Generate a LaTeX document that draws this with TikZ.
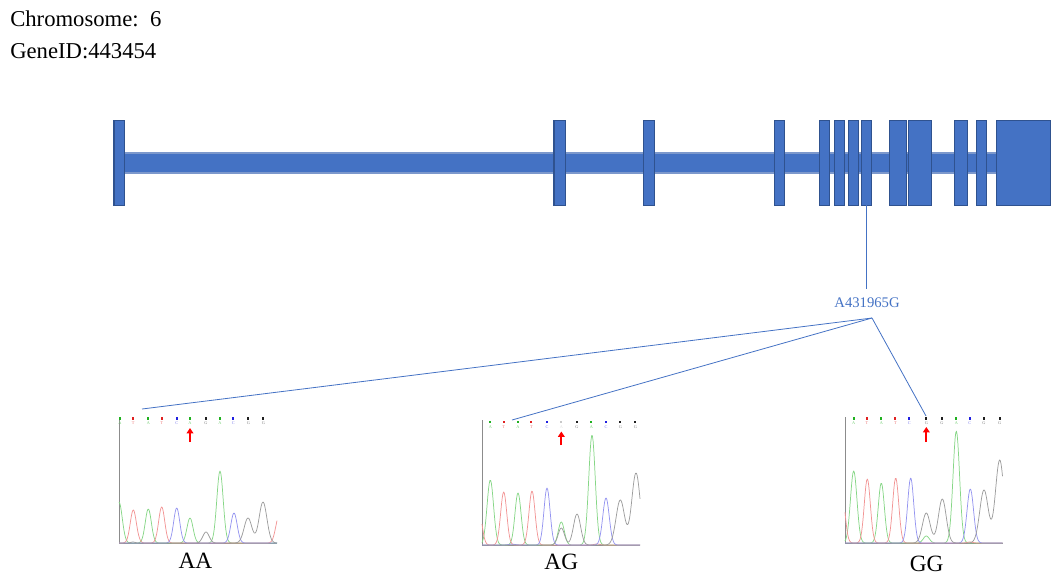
\documentclass[tikz,border=0pt]{standalone}
\usepackage{fontspec}
\setmainfont{Liberation Serif}
\usetikzlibrary{arrows.meta}
\definecolor{exonfill}{HTML}{4472C4}
\definecolor{exonline}{HTML}{2F528F}
\definecolor{barline}{HTML}{7C98CC}
\definecolor{trgreen}{HTML}{86D686}
\definecolor{trred}{HTML}{F29494}
\definecolor{trblue}{HTML}{9494F0}
\definecolor{trgray}{HTML}{9C9C9C}
\definecolor{cA}{HTML}{1FB01F}
\definecolor{cT}{HTML}{E02020}
\definecolor{cC}{HTML}{2020E0}
\definecolor{cG}{HTML}{202020}
\definecolor{cM}{HTML}{C8C8C8}
\tikzset{
  exon/.style={fill=exonfill,draw=exonline,line width=0.8pt},
  backbone/.style={fill=exonfill,draw=barline,line width=0.8pt},
  link/.style={draw=exonfill,line width=0.6pt},
  trace/.style={line width=0.55pt,line join=round},
  axisline/.style={draw=black!45,line width=0.5pt},
  callbox/.style={inner sep=0pt,minimum size=1.6pt},
  callletter/.style={inner sep=0pt,font=\fontsize{3.2}{3.5}\selectfont},
  snparrow/.style={draw=red,line width=1.5pt,-{Triangle[length=4pt,width=5pt]}},
  headtext/.style={anchor=base west,inner sep=0pt,font=\fontsize{17}{19}\selectfont},
  genotype/.style={anchor=base,inner sep=0pt,font=\fontsize{17.5}{19}\selectfont},
  snplabel/.style={anchor=base,inner sep=0pt,text=exonfill,font=\fontsize{11}{12}\selectfont}
}
\begin{document}
\begin{tikzpicture}[x=0.75pt,y=-0.75pt,
  declare function={pk(\u,\m,\k,\w)=\k*exp(-min(((\u-\m)/\w)^2,30));}]
\useasboundingbox (0,0) rectangle (1060,583);

% header texts
\node[headtext] (chrom) at (10,26) {Chromosome:\hspace{0.5em}6};
\node[headtext] (gene) at (10,58.3) {GeneID:443454};

% gene structure
\path[backbone] (124,153) rectangle (996.3,173);
\foreach \a/\b in {114/124.5,554/565.5,643.3/654.3,774.3/784.3,819.3/829.3,834.3/844.3,848.3/858.3,861.3/871.3,889.3/906.3,908.3/931.3,954.3/967.3,976.3/986.3,996.3/1050.3}
  \path[exon] (\a,120.3) rectangle (\b,205.3);

% SNP
\coordinate (snpexon) at (866.3,205.3);
\coordinate (snptop) at (866.3,289);
\node[snplabel] (snp) at (867,307.3) {A431965G};
\draw[link] (snpexon) -- (snptop);
\coordinate (apex) at (872,318);
\coordinate (aaend) at (142,409);
\coordinate (agend) at (512,420);
\coordinate (ggend) at (926,416);
\draw[link] (apex) -- (aaend);
\draw[link] (apex) -- (agend);
\draw[link] (apex) -- (ggend);

% ---------- AA chromatogram ----------
\begin{scope}[shift={(119,543)}]
  \draw[axisline] (0,-126) -- (0,0) -- (158,0);
  \draw[trace,trgreen] plot[domain=0:158,samples=220] (\x,{-(pk(\x,0,41,4.6)+pk(\x,29.3,34,4.3)+pk(\x,71,25,4.3)+pk(\x,101,72,4.5))});
  \draw[trace,trred] plot[domain=0:158,samples=220] (\x,{-(pk(\x,14.3,33,4.3)+pk(\x,42.7,36,4.3)+pk(\x,160,27,4.6)+pk(\x,20,0.8,3))});
  \draw[trace,trblue] plot[domain=0:158,samples=220] (\x,{-(pk(\x,57.7,35,4.3)+pk(\x,115,30,4.5))});
  \draw[trace,trgray] plot[domain=0:158,samples=220] (\x,{-(pk(\x,87,11,4.5)+pk(\x,129,25,5.5)+pk(\x,144,41,5.5)+pk(\x,14,1,3))});
  \foreach \p/\l/\c [count=\i] in {1/A/cA,14.3/T/cT,29.3/A/cA,42.7/T/cT,57.7/C/cC,71/A/cA,87/G/cG,101/A/cA,114.3/C/cC,129.3/G/cG,144.3/G/cG}{
    \node[callbox,fill=\c] (aab\i) at (\p,-124.5) {};
    \node[callletter,text=\c!60] (aal\i) at (\p,-119.5) {\l};
  }
  \coordinate (aaarrowfoot) at (71,-101);
  \coordinate (aaarrowtip) at (71,-115);
  \draw[snparrow] (aaarrowfoot) -- (aaarrowtip);
\end{scope}
\node[genotype] (aa) at (195.5,568.3) {AA};

% ---------- AG chromatogram ----------
\begin{scope}[shift={(482,545)}]
  \draw[axisline] (0,-125) -- (0,0) -- (158,0);
  \draw[trace,trgreen] plot[domain=0:158,samples=220] (\x,{-(pk(\x,8.3,65,4.6)+pk(\x,36,52,4.3)+pk(\x,79.3,23,4.3)+pk(\x,110,110,4.6))});
  \draw[trace,trred] plot[domain=0:158,samples=220] (\x,{-(pk(\x,-3,34,4.3)+pk(\x,21.7,53,4.3)+pk(\x,50,54,4.3)+pk(\x,115,1,4))});
  \draw[trace,trblue] plot[domain=0:158,samples=220] (\x,{-(pk(\x,65,57,4.3)+pk(\x,124,47,4.6)+pk(\x,30,0.8,5))});
  \draw[trace,trgray] plot[domain=0:158,samples=220] (\x,{-(pk(\x,79.3,17,4.5)+pk(\x,95,31,5)+pk(\x,138.3,45,6)+pk(\x,154,72,6))});
  \foreach \p/\l/\c [count=\i] in {8.3/A/cA,21.7/T/cT,36/A/cA,49.3/T/cT,65/C/cC,79.3/A/cM,95/G/cG,109.3/A/cA,124/C/cC,138.3/G/cG,153.3/G/cG}{
    \node[callbox,fill=\c] (agb\i) at (\p,-123.3) {};
    \node[callletter,text=\c!60] (agl\i) at (\p,-118.3) {\l};
  }
  \coordinate (agarrowfoot) at (79.3,-100);
  \coordinate (agarrowtip) at (79.3,-113.5);
  \draw[snparrow] (agarrowfoot) -- (agarrowtip);
\end{scope}
\node[genotype] (ag) at (561.3,569.3) {AG};

% ---------- GG chromatogram ----------
\begin{scope}[shift={(845,543)}]
  \draw[axisline] (0,-126) -- (0,0) -- (157.5,0);
  \draw[trace,trgreen] plot[domain=0:157.5,samples=220] (\x,{-(pk(\x,8.7,72,4.6)+pk(\x,36.3,60,4.3)+pk(\x,81.3,7,4.3)+pk(\x,111.3,112,4.6))});
  \draw[trace,trred] plot[domain=0:157.5,samples=220] (\x,{-(pk(\x,-3,50,4.3)+pk(\x,22.3,64,4.3)+pk(\x,50.7,65,4.3)+pk(\x,125,1,4))});
  \draw[trace,trblue] plot[domain=0:157.5,samples=220] (\x,{-(pk(\x,65.7,65,4.3)+pk(\x,125.3,54,4.6))});
  \draw[trace,trgray] plot[domain=0:157.5,samples=220] (\x,{-(pk(\x,81.3,30,5.5)+pk(\x,97.3,44,5.5)+pk(\x,139,53,6)+pk(\x,154.7,83,6))});
  \foreach \p/\l/\c [count=\i] in {8.7/A/cA,22/T/cT,36.3/A/cA,50.3/T/cT,64.3/C/cC,81.3/G/cG,97/G/cG,111.3/A/cA,124.7/C/cC,139/G/cG,154.7/G/cG}{
    \node[callbox,fill=\c] (ggb\i) at (\p,-124.5) {};
    \node[callletter,text=\c!60] (ggl\i) at (\p,-119.5) {\l};
  }
  \coordinate (ggarrowfoot) at (81.3,-101);
  \coordinate (ggarrowtip) at (81.3,-116);
  \draw[snparrow] (ggarrowfoot) -- (ggarrowtip);
\end{scope}
\node[genotype] (gg) at (926.7,571.7) {GG};
\end{tikzpicture}
\end{document}
